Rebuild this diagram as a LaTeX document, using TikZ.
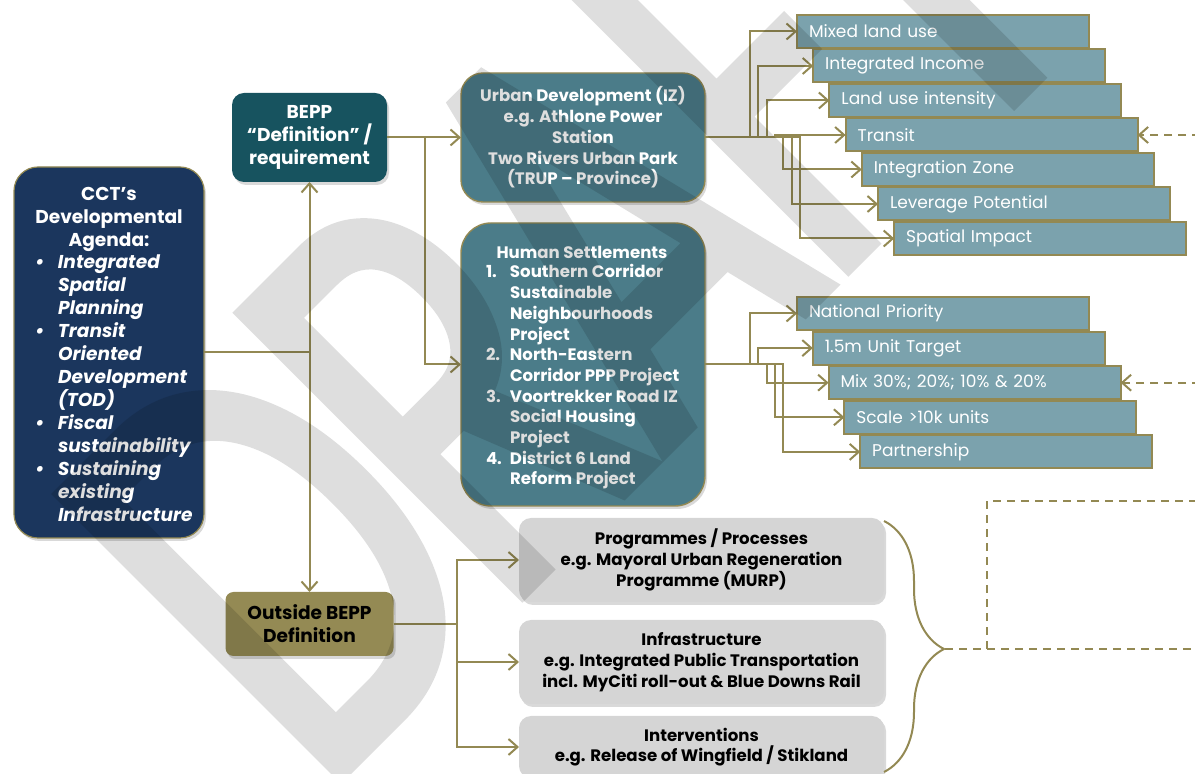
\documentclass[tikz,border=0pt]{standalone}
\usepackage{fontspec}
\setmainfont{Poppins}
\newfontfamily\markfont[FakeStretch=0.68, FakeBold=2, LetterSpace=-3.3]{Poppins}
\usetikzlibrary{positioning, arrows.meta, shadows, decorations.pathreplacing, calc}

\definecolor{cctnavy}{HTML}{1B365D}
\definecolor{beppteal}{HTML}{17535F}
\definecolor{projteal}{HTML}{4B7C89}
\definecolor{critblue}{HTML}{7BA2AD}
\definecolor{outolive}{HTML}{948A54}
\definecolor{progray}{HTML}{D5D5D5}
\definecolor{linkgold}{HTML}{938953}

% list helpers
\newcommand{\cctbul}{\makebox[11.5pt][l]{\textbullet}}
\newcommand{\cctind}{\hspace*{11.5pt}}
\newcommand{\hsnum}[1]{\makebox[12pt][l]{#1}}
\newcommand{\hsind}{\hspace*{12pt}}
% fonts
\newcommand{\bigfont}{\fontsize{9.3}{11.5}\selectfont\bfseries}
\newcommand{\midfont}{\fontsize{8.3}{10.35}\selectfont\bfseries}
\newcommand{\critfont}{\fontsize{8.5}{10}\selectfont}

\begin{document}
\begin{tikzpicture}[
    x=0.5pt, y=-0.5pt,
    every node/.style={inner sep=0pt, outer sep=0pt},
    boxshadow/.style={drop shadow={shadow xshift=1pt, shadow yshift=-1.5pt, opacity=0.3}},
    box/.style={rectangle, align=center, text=white, fill=#1},
    cctbox/.style={box=cctnavy, draw=linkgold, line width=0.6pt, rounded corners=12pt, boxshadow},
    beppbox/.style={box=beppteal, rounded corners=6pt, boxshadow, font=\bigfont},
    outbox/.style={box=outolive, text=black, rounded corners=4pt, boxshadow, font=\bigfont},
    projbox/.style={box=projteal, draw=linkgold, line width=0.7pt, rounded corners=#1, boxshadow, font=\midfont},
    progbox/.style={box=progray, text=black, rounded corners=6pt, boxshadow, font=\midfont, minimum width=182.5pt},
    critbox/.style={box=critblue, draw=linkgold, line width=1pt, align=left, anchor=north west,
        inner xsep=6pt, minimum width=146pt, minimum height=16.5pt, text width=134pt, font=\critfont},
    link/.style={linkgold, line width=1pt},
    arr/.style={link, -{Straight Barb[length=4.5pt, width=8pt]}},
    dashlink/.style={link, dash pattern=on 4pt off 3pt},
    dasharr/.style={dashlink, -{Straight Barb[length=4.5pt, width=8pt]}},
]
    \useasboundingbox (0,0) rectangle (1195,774);

    % --- agenda ---
    \node[cctbox, minimum width=95pt, minimum height=185.5pt] (cct) at (109,352.5) {};
    \node[font=\bigfont, text=white, align=center] (ccttitle) at (109,219) {CCT’s\\Developmental\\Agenda:};
    \node[font=\bigfont\itshape, text=white, align=left, anchor=west] (cctlist) at (35,388)
        {\cctbul Integrated\\\cctind Spatial\\\cctind Planning\\\cctbul Transit\\\cctind Oriented\\\cctind Development\\\cctind (TOD)\\\cctbul Fiscal\\\cctind sustainability\\\cctbul Sustaining\\\cctind existing\\\cctind Infrastructure};

    % --- BEPP split ---
    \node[beppbox, minimum width=77.5pt, minimum height=44.5pt] (bepp) at (309.5,137.5)
        {BEPP\\“Definition” /\\requirement};
    \node[outbox, minimum width=84pt, minimum height=32pt] (outside) at (309.5,624)
        {Outside BEPP\\Definition};

    % --- projects ---
    \node[projbox=11pt, minimum width=122pt, minimum height=64.5pt] (urban) at (583,137.5)
        {Urban Development (IZ)\\e.g. Athlone Power\\Station\\Two Rivers Urban Park\\(TRUP – Province)};
    \node[projbox=15pt, minimum width=122pt, minimum height=141.5pt] (human) at (583,364.5) {};
    \node[font=\midfont, text=white] (hstitle) at (582,252) {Human Settlements};
    \node[font=\midfont, text=white, align=left, anchor=west] (hslist) at (486,377)
        {\hsnum{1.}Southern Corridor\\\hsind Sustainable\\\hsind Neighbourhoods\\\hsind Project\\\hsnum{2.}North-Eastern\\\hsind Corridor PPP Project\\\hsnum{3.}Voortrekker Road IZ\\\hsind Social Housing\\\hsind Project\\\hsnum{4.}District 6 Land\\\hsind Reform Project};

    % --- outside BEPP items ---
    \node[progbox, minimum height=42pt] (prog) at (701.5,560)
        {Programmes / Processes\\e.g. Mayoral Urban Regeneration\\Programme (MURP)};
    \node[progbox, minimum height=42pt] (infra) at (701.5,662)
        {Infrastructure\\e.g. Integrated Public Transportation\\incl. MyCiti roll-out \& Blue Downs Rail};
    \node[progbox, minimum height=31pt] (interv) at (701.5,747)
        {Interventions\\e.g. Release of Wingfield / Stikland};

    % --- criteria ladders ---
    \foreach \i/\lbl in {0/Mixed land use, 1/Integrated Income, 2/Land use intensity, 3/Transit,
                         4/Integration Zone, 5/Leverage Potential, 6/Spatial Impact}
        \node[critbox] (crit\i) at (797+16.2*\i, 15+34.5*\i) {\lbl};
    \foreach \i/\lbl in {0/National Priority, 1/1.5m Unit Target, 2/{Mix 30\%; 20\%; 10\% \& 20\%},
                         3/Scale >10k units, 4/Partnership}
        \node[critbox] (hs\i) at (797+15.8*\i, 297+34.6*\i) {\lbl};

    % --- wiring ---
    \coordinate (cctjoin) at (cct.east -| bepp.south);
    \draw[link] (cct.east) -- (cctjoin);
    \draw[arr] (cctjoin) -- (bepp.south);
    \draw[arr] (cctjoin) -- (outside.north);
    \draw[arr] (bepp.east) -- (urban.west);
    \draw[arr] (bepp.east) -- ++(38,0) |- (human.west);
    \draw[arr] (outside.east) -- ++(63,0) |- (prog.west);
    \draw[arr] (outside.east) -- ++(63,0) |- (infra.west);
    \draw[arr] (outside.east) -- ++(63,0) |- (interv.west);
    \foreach \i in {0,...,6}
        \draw[arr] (urban.east) -- ++(45+8.3*\i,0) |- (crit\i.west);
    \foreach \i in {0,...,4}
        \draw[arr] (human.east) -- ++(45+8.3*\i,0) |- (hs\i.west);

    % --- brace and dashed frame ---
    \coordinate (bracetop) at (884,521);
    \coordinate (bracebot) at (884,772);
    \draw[link, decorate, decoration={brace, amplitude=30pt, aspect=0.51}] (bracetop) -- (bracebot);
    \coordinate (bracetip) at (945,649);
    \coordinate (dashBL) at (987,649);
    \coordinate (dashTL) at (987,501);
    \coordinate (dashTR) at (1200,501);
    \coordinate (dashBR) at (1200,649);
    \draw[dashlink] (bracetip) -- (dashBR);
    \draw[dashlink] (dashBL) -- (dashTL) -- (dashTR);
    \draw[dasharr] (crit3.east -| dashTR) -- (crit3.east);
    \draw[dasharr] (hs2.east -| dashTR) -- (hs2.east);

    % --- watermark, laid over everything ---
    \begin{scope}[transparency group, opacity=0.13]
        \node[text=black, font=\markfont\fontsize{286}{286}\selectfont, rotate=45,
            anchor=base west] (draftmark) at (320,797) {DRAFT};
    \end{scope}
\end{tikzpicture}
\end{document}
